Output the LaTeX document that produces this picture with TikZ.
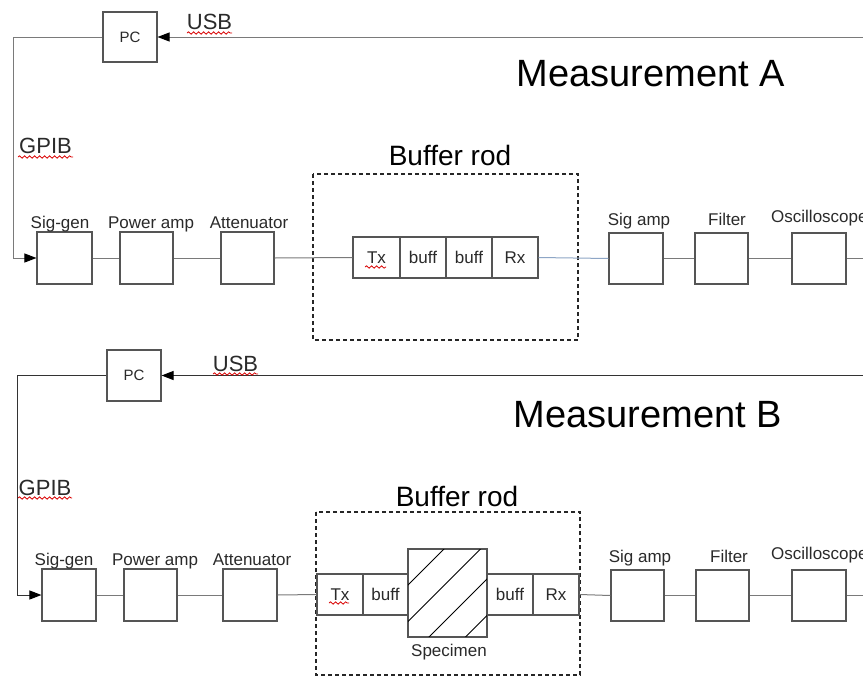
\documentclass[tikz,border=0pt]{standalone}
\usepackage{fontspec}
\setmainfont{Liberation Sans}
\usetikzlibrary{arrows.meta,decorations.pathmorphing}
\definecolor{boxc}{HTML}{555555}
\definecolor{lnA}{HTML}{7A7A7A}
\definecolor{lnB}{HTML}{333333}
\definecolor{bluel}{HTML}{8EA6C6}
\definecolor{txtc}{HTML}{2A2A2A}
\begin{document}
\begin{tikzpicture}[x=1pt,y=-1pt,
  blk/.style={draw=boxc,line width=1.1pt,inner sep=0pt,fill=white,minimum width=#1},
  blk/.default=54pt,
  lbl/.style={anchor=base,inner sep=0pt,text=txtc,font=\fontsize{17}{17}\selectfont},
  ttl/.style={anchor=base,inner sep=0pt,text=black,font=\fontsize{38}{38}\selectfont},
  sub/.style={anchor=base,inner sep=0pt,text=black,font=\fontsize{28}{28}\selectfont},
  bus/.style={anchor=base,inner sep=0pt,text=txtc,font=\fontsize{22}{22}\selectfont},
  inl/.style={text=txtc,font=\fontsize{17}{17}\selectfont},
  conA/.style={draw=lnA,line width=1pt},
  conB/.style={draw=lnB,line width=1pt},
  tip/.style={-{Triangle[length=12pt,width=9pt,color=black,fill=black]}},
  dbox/.style={draw=black!85,line width=1.6pt,dash pattern=on 4pt off 3pt},
  spell/.style={draw=red!85!black,line width=0.8pt,decorate,decoration={snake,segment length=5pt,amplitude=1.2pt}}
]
\useasboundingbox (0,0) rectangle (863,678);
\fill[white] (0,0) rectangle (863,678);

% ================= Measurement A =================
\node[ttl] (titA) at (651,86) {Measurement A};
\node[sub] (brA) at (450,165) {Buffer rod};
\draw[dbox] (313,174) rectangle (578,340);

\node[blk=54pt,minimum height=50pt,inl,font=\fontsize{15}{15}\selectfont] (pcA) at (130,37) {PC};
\node[blk=55pt,minimum height=52pt] (sgA) at (64.5,258) {};
\node[blk=53pt,minimum height=52pt] (paA) at (146.5,258) {};
\node[blk=53pt,minimum height=52pt] (atA) at (247.5,258) {};
\node[blk=47pt,minimum height=41pt,inl] (txA) at (376.5,257.5) {Tx};
\node[blk=46pt,minimum height=41pt,inl] (bfA1) at (423,257.5) {buff};
\node[blk=46pt,minimum height=41pt,inl] (bfA2) at (469,257.5) {buff};
\node[blk=46pt,minimum height=41pt,inl] (rxA) at (515,257.5) {Rx};
\node[blk=54pt,minimum height=51pt] (saA) at (636,258.5) {};
\node[blk=53pt,minimum height=51pt] (fiA) at (721.5,258.5) {};
\node[blk=54pt,minimum height=51pt] (osA) at (819,258.5) {};

\node[lbl] (lsgA) at (60,228) {Sig-gen};
\node[lbl] (lpaA) at (151,228) {Power amp};
\node[lbl] (latA) at (249,228) {Attenuator};
\node[lbl] (lsaA) at (639,225) {Sig amp};
\node[lbl] (lfiA) at (727,225) {Filter};
\node[lbl,anchor=base west] (losA) at (771,222) {Oscilloscope};
\node[bus] (usbA) at (209.5,29) {USB};
\node[bus] (gpA) at (45.5,153) {GPIB};

\coordinate (usbRA) at (863,37);
\coordinate (cA) at (13,37);
\coordinate (outA) at (863,258.5);
\draw[conA,tip] (usbRA) -- (pcA.east);
\draw[conA,tip] (pcA.west) -- (cA) |- (sgA.west);
\draw[conA] (sgA) -- (paA);
\draw[conA] (paA) -- (atA);
\draw[conA] (atA.east) -- (txA.west);
\draw[draw=bluel,line width=1pt] (rxA.east) -- (saA.west);
\draw[conA] (saA) -- (fiA);
\draw[conA] (fiA) -- (osA);
\draw[conA] (osA.east) -- (outA);

\draw[spell] (187,33) -- (232,33);
\draw[spell] (18,157) -- (73,157);
\draw[spell] (365,267) -- (386,267);

% ================= Measurement B =================
\node[ttl] (titB) at (648,427) {Measurement B};
\node[sub] (brB) at (457,506) {Buffer rod};
\draw[dbox] (316,512) rectangle (580,675);

\node[blk=54pt,minimum height=51pt,inl,font=\fontsize{15}{15}\selectfont] (pcB) at (134,375.5) {PC};
\node[blk=54pt,minimum height=52pt] (sgB) at (69,595) {};
\node[blk=53pt,minimum height=52pt] (paB) at (150.5,595) {};
\node[blk=54pt,minimum height=52pt] (atB) at (250,595) {};
\node[blk=46pt,minimum height=41pt,inl] (txB) at (340,594.5) {Tx};
\node[blk=45pt,minimum height=41pt,inl] (bfB1) at (385.5,594.5) {buff};
\node[blk=79pt,minimum height=88pt] (spB) at (447.5,593) {};
\node[blk=46pt,minimum height=41pt,inl] (bfB2) at (510,594.5) {buff};
\node[blk=46pt,minimum height=41pt,inl] (rxB) at (556,594.5) {Rx};
\node[blk=53pt,minimum height=51pt] (saB) at (637.5,595.5) {};
\node[blk=53pt,minimum height=51pt] (fiB) at (722.5,595.5) {};
\node[blk=54pt,minimum height=51pt] (osB) at (819,595.5) {};

\begin{scope}
  \clip (spB.south west) rectangle (spB.north east);
  \foreach \c in {993,1029.5,1066,1102.5}
    \draw[black,line width=0.9pt] (\c-660,660) -- (\c-530,530);
\end{scope}
\draw[draw=boxc,line width=1.1pt] (spB.south west) rectangle (spB.north east);

\node[lbl] (lspB) at (449,656) {Specimen};
\node[lbl] (lsgB) at (64,565) {Sig-gen};
\node[lbl] (lpaB) at (155,565) {Power amp};
\node[lbl] (latB) at (252,565) {Attenuator};
\node[lbl] (lsaB) at (640,562) {Sig amp};
\node[lbl] (lfiB) at (729,562) {Filter};
\node[lbl,anchor=base west] (losB) at (771,559) {Oscilloscope};
\node[bus] (usbB) at (235.5,371) {USB};
\node[bus] (gpB) at (45,495) {GPIB};

\coordinate (usbRB) at (863,375.5);
\coordinate (cB) at (17,375.5);
\coordinate (outB) at (863,595.5);
\draw[conB,tip] (usbRB) -- (pcB.east);
\draw[conB,tip] (pcB.west) -- (cB) |- (sgB.west);
\draw[conA] (sgB) -- (paB);
\draw[conA] (paB) -- (atB);
\draw[conA] (atB.east) -- (txB.west);
\draw[conA] (rxB.east) -- (saB.west);
\draw[conA] (saB) -- (fiB);
\draw[conA] (fiB) -- (osB);
\draw[conA] (osB.east) -- (outB);

\draw[spell] (213,374) -- (258,374);
\draw[spell] (18,498) -- (72,498);
\draw[spell] (329,603) -- (349,603);
\end{tikzpicture}
\end{document}
